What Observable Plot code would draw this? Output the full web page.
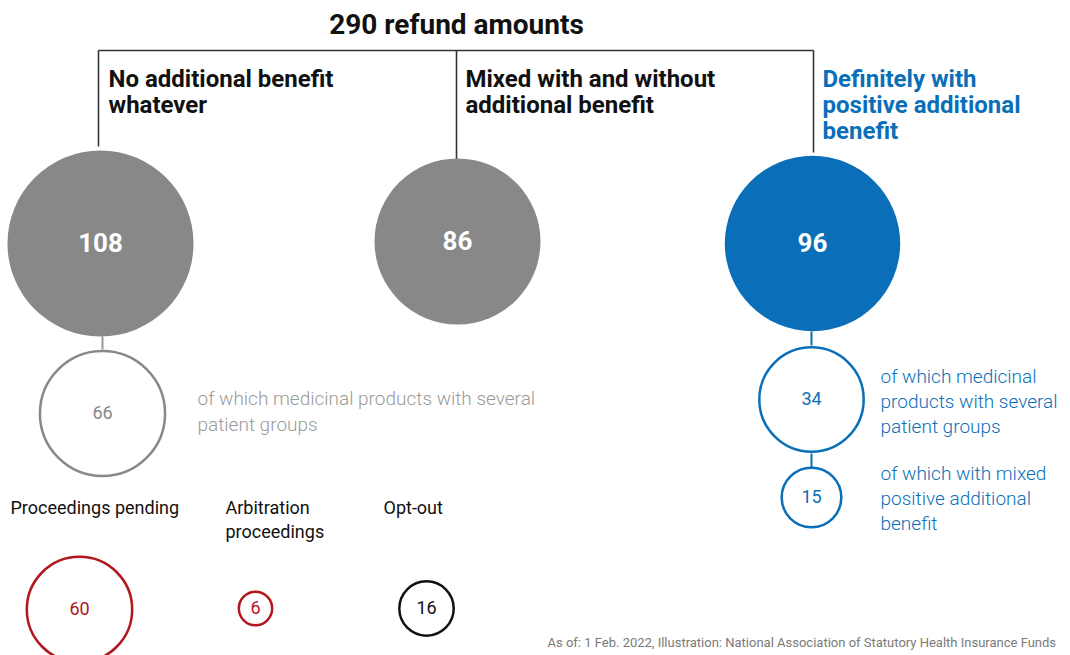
<!DOCTYPE html>
<html><head><meta charset="utf-8">
<script src="https://cdn.jsdelivr.net/npm/d3@7"></script>
<script src="https://cdn.jsdelivr.net/npm/@observablehq/plot@0.6"></script>
<style>
body{margin:0;background:#fff;}
#chart{position:relative;width:1070px;height:655px;overflow:hidden;background:#fff}
#chart svg{position:absolute;left:0;top:0}
</style>
</head><body><div id="chart"></div>
<script>
// ---------- DATA ----------
const title = "290 refund amounts";
const categories = ["No additional benefit\nwhatever", "Mixed with and without\nadditional benefit", "Definitely with\npositive additional\nbenefit"];
const categoryCounts = [108, 86, 96];
const severalGroupsLabels = ["of which medicinal products with several\npatient groups", "of which medicinal\nproducts with several\npatient groups"];
const severalGroupsCounts = [66, 34];
const mixedPositiveLabel = "of which with mixed\npositive additional\nbenefit";
const mixedPositiveCount = 15;
const statusLabels = ["Proceedings pending", "Arbitration\nproceedings", "Opt-out"];
const statusCounts = [60, 6, 16];
const caption = "As of: 1 Feb. 2022, Illustration: National Association of Statutory Health Insurance Funds";

// ---------- LAYOUT (positions / styles) ----------
const W = 1070, H = 655;
const GRAY = "#888888", GRAYTXT = "#9a9a9a", BLUE = "#0a6fb8", RED = "#b2161e", DARK = "#111";
const mainPos = [{x: 100, y: 243}, {x: 457, y: 241}, {x: 812, y: 243}];
const mainFill = [GRAY, GRAY, BLUE];
const headPos = [{x: 108, y: 112, c: DARK}, {x: 465, y: 112, c: DARK}, {x: 822, y: 138, c: BLUE}];
const subPos = [{x: 102, y: 413, c: GRAY, tier: "B"}, {x: 811, y: 399, c: BLUE, tier: "A"}];
const subLabelPos = [{x: 197, y: 430, c: GRAYTXT, lh: 1.32}, {x: 880, y: 432, c: BLUE, lh: 1.29}];
const mixedPos = {x: 811, y: 497};
const mixedLabelPos = {x: 880, y: 529};
const statusPos = [{x: 79, y: 609, c: RED}, {x: 255, y: 608, c: RED}, {x: 426, y: 608, c: DARK}];
const statusLabelPos = [{x: 10, y: 513}, {x: 225, y: 537}, {x: 383, y: 513}];
const bracket = [
  {x1: 98, y1: 50, x2: 813, y2: 50},
  {x1: 98, y1: 50, x2: 98, y2: 146},
  {x1: 456, y1: 50, x2: 456, y2: 159},
  {x1: 813, y1: 50, x2: 813, y2: 152}
];
const connectors = [
  {x1: 102, y1: 336, x2: 102, y2: 349, c: "#999"},
  {x1: 811, y1: 331, x2: 811, y2: 345, c: BLUE},
  {x1: 811, y1: 453, x2: 811, y2: 468, c: BLUE}
];
// per-tier radius scale ranges (radius for a value of 100)
const tierRange = {A: 89.5, B: 77, C: 68};

// ---------- TABLES ----------
const mainCircles = categoryCounts.map((v, i) => ({value: v, label: String(v), ...mainPos[i], fill: mainFill[i]}));
const subCircles = severalGroupsCounts.map((v, i) => ({value: v, label: String(v), ...subPos[i]}));
const mixedCircle = [{value: mixedPositiveCount, label: String(mixedPositiveCount), ...mixedPos, c: BLUE, tier: "B"}];
const statusCircles = statusCounts.map((v, i) => ({value: v, label: String(v), ...statusPos[i], tier: "C"}));
const outlineCircles = [...subCircles, ...mixedCircle, ...statusCircles];

const font = "Roboto, 'Noto Sans', sans-serif";

function base(tier, marks) {
  return Plot.plot({
    width: W, height: H, margin: 0,
    x: {domain: [0, W], range: [0, W], axis: null},
    y: {domain: [0, H], range: [0, H], axis: null},
    r: {type: "sqrt", domain: [0, 100], range: [0, tierRange[tier]]},
    style: {background: "transparent", fontFamily: font, overflow: "visible"},
    marks
  });
}

const annotationMarks = severalGroupsLabels.map((t, i) =>
  Plot.text([{text: t, ...subLabelPos[i]}], {x: "x", y: "y", text: "text", fill: subLabelPos[i].c, lineHeight: subLabelPos[i].lh, textAnchor: "start", lineAnchor: "bottom", fontSize: 19, fontWeight: 300})
);

const plotA = base("A", [
  Plot.text([title], {x: () => 456, y: () => 33, text: d => d, textAnchor: "middle", lineAnchor: "bottom", fontSize: 28, fontWeight: 700, fill: DARK}),
  Plot.link(bracket, {x1: "x1", y1: "y1", x2: "x2", y2: "y2", stroke: "#333", strokeWidth: 1.6}),
  Plot.text(categories.map((c, i) => ({text: c, ...headPos[i]})), {x: "x", y: "y", text: "text", fill: d => d.c, textAnchor: "start", lineAnchor: "bottom", lineHeight: 26 / 24, fontSize: 24, fontWeight: 700}),
  Plot.link(connectors, {x1: "x1", y1: "y1", x2: "x2", y2: "y2", stroke: d => d.c, strokeWidth: 2}),
  Plot.dot(mainCircles, {x: "x", y: "y", r: "value", fill: d => d.fill, stroke: null}),
  Plot.text(mainCircles, {x: "x", y: "y", text: "label", fill: "white", fontSize: 26, fontWeight: 700, textAnchor: "middle"}),
  Plot.dot(outlineCircles.filter(d => d.tier === "A"), {x: "x", y: "y", r: "value", fill: "white", stroke: d => d.c, strokeWidth: 2.5}),
  Plot.text(outlineCircles, {x: "x", y: "y", text: "label", fill: d => d.c, fontSize: 18, fontWeight: 400, textAnchor: "middle"}),
  ...annotationMarks,
  Plot.text([{text: mixedPositiveLabel, ...mixedLabelPos}], {x: "x", y: "y", text: "text", fill: BLUE, lineHeight: 1.29, textAnchor: "start", lineAnchor: "bottom", fontSize: 19, fontWeight: 300}),
  Plot.text(statusLabels.map((t, i) => ({text: t, ...statusLabelPos[i]})), {x: "x", y: "y", text: "text", fill: DARK, lineHeight: 24 / 18, textAnchor: "start", lineAnchor: "bottom", fontSize: 18, fontWeight: 400}),
  Plot.text([caption], {x: () => 547, y: () => 646, text: d => d, fill: "#7a7a7a", textAnchor: "start", lineAnchor: "bottom", fontSize: 13, fontWeight: 400})
]);

const plotB = base("B", [
  Plot.dot(outlineCircles.filter(d => d.tier === "B"), {x: "x", y: "y", r: "value", fill: "none", stroke: d => d.c, strokeWidth: 2.5})
]);
const plotC = base("C", [
  Plot.dot(outlineCircles.filter(d => d.tier === "C"), {x: "x", y: "y", r: "value", fill: "none", stroke: d => d.c, strokeWidth: 2.5})
]);

const chart = document.getElementById("chart");
chart.append(plotB, plotC, plotA);
</script>
</body></html>
